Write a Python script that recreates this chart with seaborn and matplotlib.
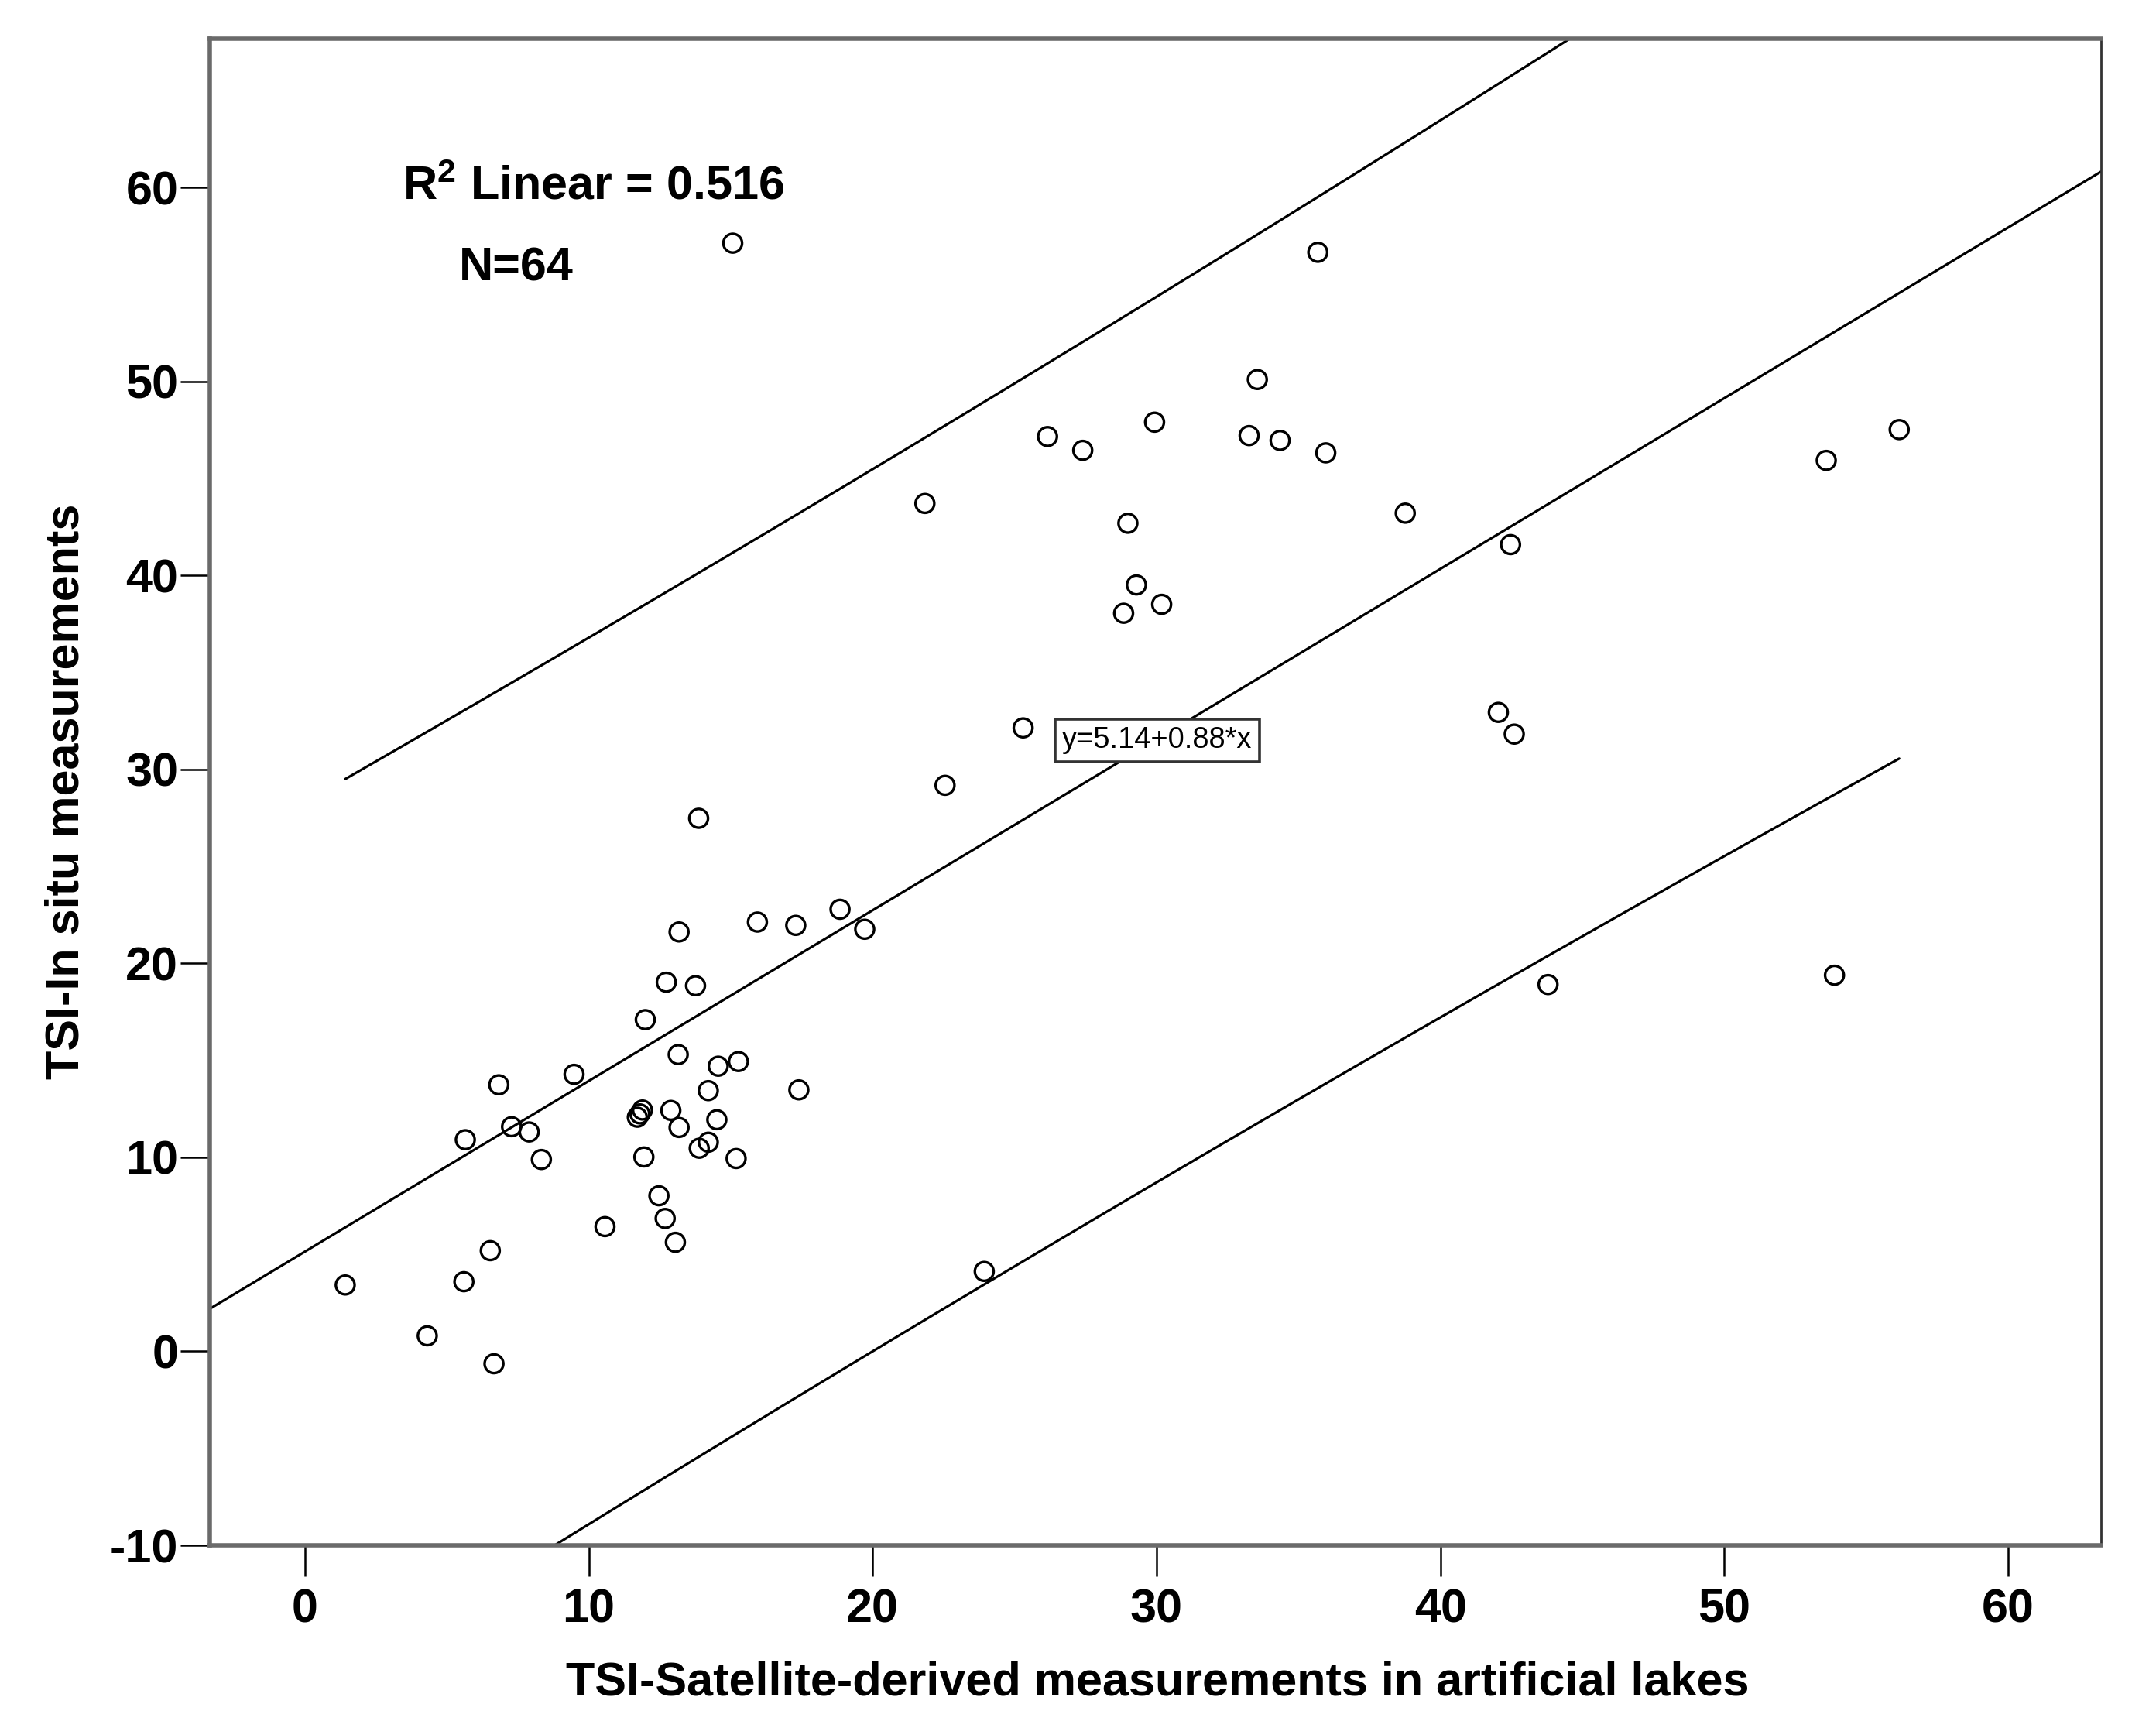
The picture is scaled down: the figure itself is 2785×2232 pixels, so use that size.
import numpy as np
import pandas as pd
import matplotlib
matplotlib.use("Agg")
import matplotlib.pyplot as plt
import seaborn as sns

# ---------------- data ----------------
tsi_satellite = [13.18, 15.94, 17.29, 18.85, 19.72, 12.73, 13.76, 11.99, 13.15, 14.56,
                 15.27, 6.83, 9.48, 14.21, 17.40, 11.71, 11.89, 11.80, 12.89, 14.51,
                 13.18, 7.28, 7.90, 5.65, 8.33, 11.94, 13.89, 14.21, 15.19, 12.47,
                 12.69, 10.57, 13.05, 6.53, 1.42, 5.60, 4.31, 6.66, 23.93, 25.30,
                 22.55, 13.87, 35.68, 33.55, 29.93, 26.16, 27.40, 33.26, 34.35, 35.96,
                 21.84, 28.99, 38.76, 29.29, 30.18, 28.84, 56.16, 53.59, 42.47, 42.04,
                 42.60, 43.79, 53.88, 15.07]
tsi_insitu = [21.62, 22.13, 21.96, 22.79, 21.76, 19.03, 18.85, 17.10, 15.30, 14.70,
              14.94, 13.74, 14.28, 13.44, 13.48, 12.07, 12.44, 12.24, 12.42, 11.94,
              11.54, 11.58, 11.31, 10.91, 9.89, 10.02, 10.47, 10.78, 9.94, 8.02,
              6.85, 6.43, 5.62, 5.19, 3.42, 3.59, 0.80, -0.64, 4.12, 32.14,
              29.18, 27.48, 56.66, 50.10, 47.90, 47.16, 46.45, 47.21, 46.96, 46.32,
              43.71, 42.69, 43.21, 39.51, 38.51, 38.05, 47.52, 45.93, 41.59, 32.94,
              31.82, 18.91, 19.39, 57.13]

fit_intercept = 5.14
fit_slope = 0.88
r2_text = r"R$^{2}$ Linear = 0.516"
n_text = "N=64"
eq_text = "y=5.14+0.88*x"
x_ticks = [0, 10, 20, 30, 40, 50, 60]
y_ticks = [-10, 0, 10, 20, 30, 40, 50, 60]
x_label = "TSI-Satellite-derived measurements in artificial lakes"
y_label = "TSI-In situ measurements"
t_975_df62 = 1.999  # Student t quantile for the 95% individual prediction interval

# ---------------- style ----------------
sns.set_style("white")
plt.rcParams["font.family"] = ["Liberation Sans", "DejaVu Sans"]
plt.rcParams["axes.unicode_minus"] = False
plt.rcParams["mathtext.fontset"] = "custom"
plt.rcParams["mathtext.rm"] = "Liberation Sans:bold"
plt.rcParams["mathtext.it"] = "Liberation Sans:bold"
plt.rcParams["mathtext.bf"] = "Liberation Sans:bold"
plt.rcParams["mathtext.default"] = "rm"

fig = plt.figure(figsize=(13.925, 11.16), dpi=200)
fig.patch.set_facecolor("white")
ax = fig.add_axes([0.09731, 0.10573, 0.87720, 0.87209])

x_lo, x_hi = -3.35, 63.27
y_lo, y_hi = -10.0, 67.69

df = pd.DataFrame({"sat": tsi_satellite, "insitu": tsi_insitu})
xa = df["sat"].to_numpy()
ya = df["insitu"].to_numpy()
n = len(xa)

# fit line across the whole axis
xr = np.array([x_lo, x_hi])
sns.lineplot(x=xr, y=fit_intercept + fit_slope * xr, ax=ax, color="black",
             linewidth=1.15, estimator=None, sort=False, zorder=2)

# 95% individual prediction interval
resid = ya - (fit_intercept + fit_slope * xa)
s = np.sqrt(np.sum(resid ** 2) / (n - 2))
xbar = xa.mean()
sxx = np.sum((xa - xbar) ** 2)
xg = np.linspace(xa.min(), xa.max(), 300)
half = t_975_df62 * s * np.sqrt(1 + 1 / n + (xg - xbar) ** 2 / sxx)
yg = fit_intercept + fit_slope * xg
sns.lineplot(x=xg, y=yg + half, ax=ax, color="black", linewidth=1.15,
             estimator=None, sort=False, zorder=2)
sns.lineplot(x=xg, y=yg - half, ax=ax, color="black", linewidth=1.15,
             estimator=None, sort=False, zorder=2)

sns.scatterplot(data=df, x="sat", y="insitu", ax=ax, marker="o", s=76,
                facecolor="none", edgecolor="black", linewidth=1.2, zorder=3)

ax.set_xlim(x_lo, x_hi)
ax.set_ylim(y_lo, y_hi)
ax.set_xticks(x_ticks)
ax.set_yticks(y_ticks)
ax.set_xticklabels([str(v) for v in x_ticks])
ax.set_yticklabels([str(v) for v in y_ticks])
ax.tick_params(axis="x", direction="out", length=14.4, width=0.9, pad=5.4,
               labelsize=22, bottom=True, colors="black")
ax.tick_params(axis="y", direction="out", length=13.7, width=0.9, pad=1.0,
               labelsize=22, left=True, colors="black")
for lbl in ax.get_xticklabels() + ax.get_yticklabels():
    lbl.set_fontweight("bold")

ax.set_xlabel(x_label, fontsize=22, fontweight="bold", color="black")
ax.set_ylabel(y_label, fontsize=22, fontweight="bold", color="black")
ax.xaxis.set_label_coords(0.501, -0.0766)
ax.yaxis.set_label_coords(-0.0639, 0.5)

for side in ["left", "bottom", "top"]:
    ax.spines[side].set_visible(True)
    ax.spines[side].set_color("#6a6a6a")
    ax.spines[side].set_linewidth(2.0)
ax.spines["right"].set_visible(True)
ax.spines["right"].set_color("#333333")
ax.spines["right"].set_linewidth(1.0)
ax.grid(False)
ax.set_facecolor("white")

ax.text(3.44, 59.4, r2_text, fontsize=22, fontweight="bold", ha="left",
        va="baseline", color="black")
ax.text(5.42, 55.2, n_text, fontsize=22, fontweight="bold", ha="left",
        va="baseline", color="black")
ax.text(30.02, 31.5, eq_text, fontsize=13.7, ha="center", va="center",
        color="black", zorder=5,
        bbox=dict(boxstyle="square,pad=0.25", fc="white", ec="#333333", lw=1.3))

fig.savefig("out.png", dpi=200, facecolor="white")
